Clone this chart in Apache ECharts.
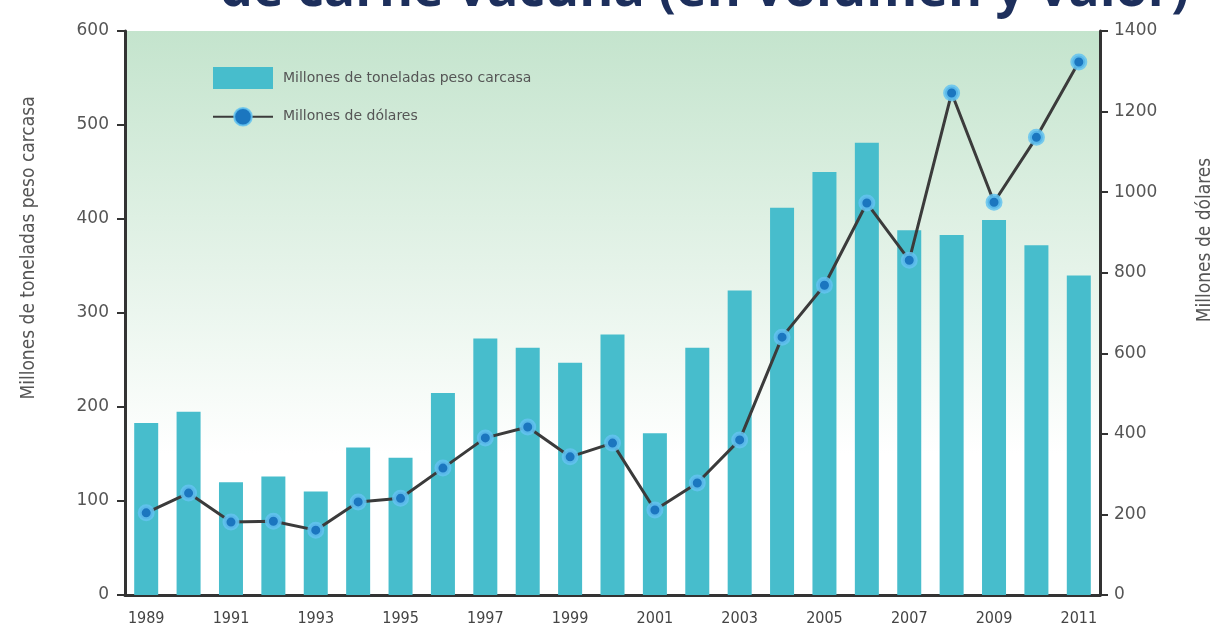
<!DOCTYPE html>
<html>
<head>
<meta charset="utf-8">
<script src="https://cdn.jsdelivr.net/npm/echarts@6/dist/echarts.min.js"></script>
<style>
  html, body { margin: 0; padding: 0; background: #fff; }
  #chart { width: 1220px; height: 643px; }
</style>
</head>
<body>
<div id="chart"></div>
<script>
const years = ['1989', '1990', '1991', '1992', '1993', '1994', '1995', '1996', '1997', '1998', '1999', '2000',
    '2001', '2002', '2003', '2004', '2005', '2006', '2007', '2008', '2009', '2010', '2011'];
const tonnes = [183, 195, 120, 126, 110, 157, 146, 215, 273, 263, 247, 277,
    172, 263, 324, 412, 450, 481, 388, 383, 399, 372, 340];
const dollars = [204, 253, 181, 183, 161, 231, 240, 315, 390, 417, 343, 377,
    211, 278, 385, 640, 769, 973, 831, 1246, 975, 1136, 1323];
const leftTicks = [0, 600, 100];
const rightTicks = [0, 1400, 200];

const chart = echarts.init(document.getElementById('chart'));
const narrow = "'DejaVu Sans Condensed', 'Liberation Sans Narrow', sans-serif";
const wide = "'DejaVu Sans', sans-serif";

const option = {
    animation: false,
    title: {
        text: 'de carne vacuna (en volumen y valor)',
        left: 215,
        top: -40,
        textStyle: {fontSize: 52, fontWeight: 'bold', color: '#1d2f5c', fontFamily: "'Open Sans', sans-serif"}
    },
    legend: {
        orient: 'vertical',
        left: 207,
        top: 62,
        itemWidth: 60,
        itemHeight: 22,
        itemGap: 18,
        textStyle: {fontSize: 14, color: '#555', fontFamily: wide, padding: [0, 0, 0, 5]},
        data: [
            {name: 'Millones de toneladas peso carcasa', icon: 'rect'},
            {name: 'Millones de dólares'}
        ]
    },
    grid: {
        left: 125,
        right: 120,
        top: 31,
        bottom: 48,
        outerBoundsMode: 'none',
        show: true,
        borderWidth: 0,
        backgroundColor: {
            type: 'linear', x: 0, y: 0, x2: 0, y2: 1,
            colorStops: [
                {offset: 0, color: '#c4e4cd'},
                {offset: 0.75, color: '#ffffff'},
                {offset: 1, color: '#ffffff'}
            ]
        }
    },
    xAxis: {
        type: 'category',
        data: years,
        axisLine: {lineStyle: {color: '#333', width: 3}},
        axisTick: {length: 8, lineStyle: {color: '#333', width: 2}},
        axisLabel: {interval: 1, fontSize: 16, color: '#444', fontFamily: narrow, margin: 16}
    },
    yAxis: [{
        type: 'value',
        min: leftTicks[0],
        max: leftTicks[1],
        interval: leftTicks[2],
        name: 'Millones de toneladas peso carcasa',
        nameLocation: 'middle',
        nameGap: 86,
        nameTextStyle: {fontSize: 19, color: '#555', fontFamily: narrow, padding: [0, 0, 0, 130]},
        axisLine: {show: true, lineStyle: {color: '#333', width: 3}},
        axisTick: {show: true, length: 8, lineStyle: {color: '#333', width: 2}},
        axisLabel: {fontSize: 17, color: '#555', fontFamily: wide, margin: 16},
        splitLine: {show: false}
    }, {
        type: 'value',
        min: rightTicks[0],
        max: rightTicks[1],
        interval: rightTicks[2],
        name: 'Millones de dólares',
        nameLocation: 'middle',
        nameGap: 96,
        nameTextStyle: {fontSize: 19, color: '#555', fontFamily: narrow, padding: [0, 0, 0, 146]},
        axisLine: {show: true, lineStyle: {color: '#333', width: 3}},
        axisTick: {show: true, length: 8, lineStyle: {color: '#333', width: 2}},
        axisLabel: {fontSize: 17, color: '#555', fontFamily: wide, margin: 14, formatter: v => String(v)},
        splitLine: {show: false}
    }],
    series: [{
        name: 'Millones de toneladas peso carcasa',
        type: 'bar',
        data: tonnes,
        barWidth: 24,
        itemStyle: {color: '#47bdcc'}
    }, {
        name: 'Millones de dólares',
        type: 'line',
        yAxisIndex: 1,
        data: dollars,
        symbol: 'circle',
        symbolSize: 13,
        lineStyle: {color: '#3b3b3b', width: 3},
        itemStyle: {color: '#1b76bf', borderColor: 'rgba(100,195,240,0.85)', borderWidth: 4}
    }]
};

chart.setOption(option);
</script>
</body>
</html>
